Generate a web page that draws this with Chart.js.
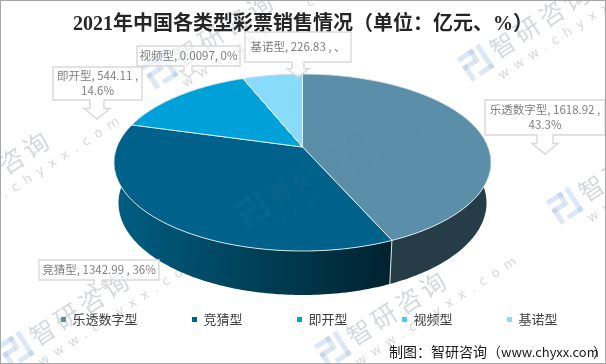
<!DOCTYPE html>
<html>
<head>
<meta charset="utf-8">
<style>html,body{margin:0;padding:0;background:#fff}canvas{display:block}</style>
<script src="https://cdn.jsdelivr.net/npm/chart.js@4/dist/chart.umd.min.js"></script>
</head>
<body>
<canvas id="myChart" width="606" height="364"></canvas>
<script>
var categories = ['乐透数字型', '竞猜型', '即开型', '视频型', '基诺型'];
var values = [1618.92, 1342.99, 544.11, 0.0097, 226.83];
var colors = ['#5b8ea8', '#00628a', '#00a0d8', '#4fc8f2', '#88dbfb'];
var calloutLines = [
    ['乐透数字型, 1618.92 ,', '43.3%'],
    ['竞猜型, 1342.99 , 36%'],
    ['即开型, 544.11 ,', '14.6%'],
    ['视频型, 0.0097, 0%'],
    ['基诺型, 226.83 , 、']
];
// box left, top, right, bottom, arrow tip x, tip y, shaft half width, head half width
var calloutBoxes = [
    [485, 100, 605, 135, 545, 154, 8, 13],
    [39, 260, 159, 280, 98, 290, 4, 10],
    [53, 67, 142, 100, 97, 119, 7, 13],
    [137, 46, 240, 66, 188, 77, 4, 8],
    [245, 32, 351, 62, 298, 77, 6, 11]
];
var watermarks = [[187, 53], [503, 45], [-37, 192], [280, 192], [592, 188], [43, 332], [360, 332]];

// picture geometry of the tilted pie
var cx = 302.5, apexY = 147, persp = 0.175, spanX = 185.6, spanY = 85.8;
var topMidY = 162.5, topRx = 188.5, topRy = 88.5, baseMidY = 203, baseRx = 184, baseRy = 92;

function rim(a) {
    var w = 1 - persp * Math.sin(a);
    return [cx + spanX * Math.cos(a) / w, apexY + spanY * Math.sin(a) / w];
}
function base(p) {
    return [cx + (p[0] - cx) * baseRx / topRx, baseMidY + (p[1] - topMidY) * baseRy / topRy];
}
function arcPoints(arc) {
    var pts = [], n = Math.max(2, Math.ceil((arc.endAngle - arc.startAngle) * 60));
    for (var i = 0; i <= n; i++) pts.push(rim(arc.startAngle + (arc.endAngle - arc.startAngle) * i / n));
    return pts;
}
function drawMarks(c, textColor, logoColor) {
    watermarks.forEach(function (w) {
        c.save();
        c.translate(w[0], w[1]);
        c.rotate(-33 * Math.PI / 180);
        c.textAlign = 'left';
        c.textBaseline = 'middle';
        c.fillStyle = textColor;
        c.font = '25px "Noto Sans CJK SC"';
        c.letterSpacing = '4px';
        c.fillText('智研咨询', -13, 0);
        c.font = '13px "DejaVu Sans"';
        c.letterSpacing = '7px';
        c.fillText('www.chyxx.com', -20, 25);
        c.letterSpacing = '0px';
        c.fillStyle = logoColor;
        c.fillRect(-46, -14, 18, 5);
        c.fillRect(-33, -14, 5, 15);
        c.fillRect(-46, -4, 14, 5);
        c.fillRect(-46, -4, 5, 18);
        c.fillRect(-24, -14, 5, 28);
        c.fillRect(-36, 9, 17, 5);
        c.restore();
    });
}

var pie3d = {
    id: 'pie3d',
    afterLayout: function (chart) {
        // the wide legend needs a negative right padding, the title stays on the canvas centre
        chart.titleBlock.left = 0;
        chart.titleBlock.right = 606;
    },
    beforeDraw: function (chart) {
        drawMarks(chart.ctx, 'rgba(150,158,166,0.32)', 'rgba(110,160,215,0.2)');
    },
    beforeDatasetsDraw: function (chart) {
        var c = chart.ctx, arcs = chart.getDatasetMeta(0).data;
        c.save();
        arcs.forEach(function (arc, i) {
            var pts = arcPoints(arc);
            c.beginPath();
            pts.forEach(function (p, k) { k ? c.lineTo(p[0], p[1]) : c.moveTo(p[0], p[1]); });
            pts.slice().reverse().forEach(function (p) { var b = base(p); c.lineTo(b[0], b[1]); });
            c.closePath();
            if (i == 1) {
                var g = c.createLinearGradient(114, 0, 392, 0);
                g.addColorStop(0, '#005e82');
                g.addColorStop(1, '#00222f');
                c.fillStyle = g;
            } else {
                c.fillStyle = i == 0 ? '#263c47' : '#003a50';
            }
            c.fill();
        });
        // seam on the front wall
        var s = rim(arcs[0].endAngle), sb = base(s);
        c.strokeStyle = '#dbe6ea';
        c.lineWidth = 1;
        c.beginPath(); c.moveTo(s[0], s[1]); c.lineTo(sb[0], sb[1]); c.stroke();
        // top faces
        arcs.forEach(function (arc, i) {
            var pts = arcPoints(arc);
            c.beginPath();
            c.moveTo(cx, apexY);
            pts.forEach(function (p) { c.lineTo(p[0], p[1]); });
            c.closePath();
            c.fillStyle = colors[i];
            c.fill();
            c.strokeStyle = '#e8f0f3';
            c.lineWidth = 0.9;
            c.stroke();
        });
        drawMarks(c, 'rgba(120,130,140,0.07)', 'rgba(110,160,215,0.05)');
        c.restore();
        return false;
    },
    afterDraw: function (chart) {
        var c = chart.ctx;
        c.save();
        // callouts
        c.font = '11.5px "Noto Sans CJK SC"';
        c.textAlign = 'center';
        c.textBaseline = 'middle';
        calloutBoxes.forEach(function (b, i) {
            var mid = b[4], neck = b[5] - (b[5] - b[3]) * 0.55;
            c.beginPath();
            c.moveTo(b[0], b[1]); c.lineTo(b[2], b[1]); c.lineTo(b[2], b[3]);
            c.lineTo(mid + b[6], b[3]); c.lineTo(mid + b[6], neck);
            c.lineTo(mid + b[7], neck); c.lineTo(mid, b[5]);
            c.lineTo(mid - b[7], neck); c.lineTo(mid - b[6], neck);
            c.lineTo(mid - b[6], b[3]); c.lineTo(b[0], b[3]); c.closePath();
            c.fillStyle = 'rgba(255,255,255,0.55)';
            c.fill();
            c.strokeStyle = '#d9d9d9';
            c.lineWidth = 1.4;
            c.stroke();
            c.fillStyle = '#7f7f7f';
            var lines = calloutLines[i], tx = (b[0] + b[2]) / 2, ty = (b[1] + b[3]) / 2;
            lines.forEach(function (t, k) {
                c.fillText(t, tx, ty + (k - (lines.length - 1) / 2) * 15);
            });
        });
        // footer, the latin part runs narrower than the CJK part
        c.fillStyle = '#1a1a1a';
        c.textAlign = 'left';
        c.textBaseline = 'middle';
        c.font = '14px "Noto Sans CJK SC"';
        c.fillText('制图：智研咨询（', 389, 352);
        c.font = '13px "Noto Sans CJK SC"';
        c.fillText('www.chyxx.com', 501, 352);
        c.font = '14px "Noto Sans CJK SC"';
        c.fillText('）', 593, 352);
        // frame
        c.strokeStyle = '#a6a6a6';
        c.lineWidth = 2;
        c.strokeRect(0, 0, 606, 364);
        c.restore();
    }
};

var ctx = document.getElementById('myChart').getContext('2d');
var chart = new Chart(ctx, {
    type: 'pie',
    data: {
        labels: categories,
        datasets: [{ data: values, backgroundColor: colors, borderWidth: 0 }]
    },
    options: {
        responsive: false,
        animation: false,
        layout: { padding: { left: 6.5, right: -40, bottom: 28 } },
        plugins: {
            tooltip: { enabled: false },
            title: {
                display: true,
                text: '2021年中国各类型彩票销售情况（单位：亿元、%）',
                color: '#262626',
                font: { family: '"Liberation Serif", "Noto Sans CJK SC"', size: 20, weight: 'bold' },
                padding: { top: 13, bottom: 4 }
            },
            legend: {
                position: 'bottom',
                align: 'start',
                labels: {
                    boxWidth: 5,
                    boxHeight: 5,
                    padding: 54.5,
                    color: '#404040',
                    font: { family: '"Noto Sans CJK SC"', size: 13 }
                }
            }
        }
    },
    plugins: [pie3d]
});
</script>
</body>
</html>
